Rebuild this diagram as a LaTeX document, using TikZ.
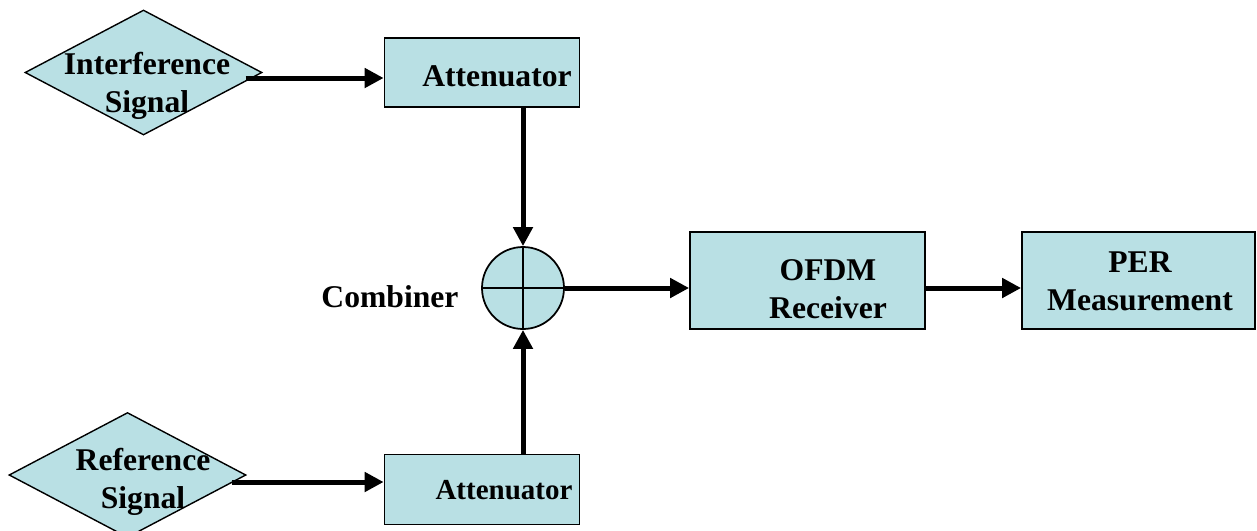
\documentclass[tikz,border=0pt]{standalone}
\usepackage{fontspec}
\setmainfont{Liberation Serif}
\usepackage{tikz}
\usetikzlibrary{arrows.meta,positioning,shapes.geometric}

\definecolor{blockfill}{RGB}{185,224,228}

\begin{document}
\begin{tikzpicture}[
  x=0.2mm, y=-0.2mm,
  box/.style={draw, line width=1pt, fill=blockfill, inner sep=0pt},
  diam/.style={draw, diamond, line width=0.8pt, fill=blockfill, inner sep=0pt, minimum width=47.4mm, minimum height=25mm},
  lbl/.style={align=center, font=\bfseries\fontsize{18}{21.5}\selectfont, inner sep=0pt},
  arr/.style={-{Triangle[length=3.8mm, width=3.8mm]}, line width=1mm}
]
\useasboundingbox (0,0) rectangle (1257,530);

\node[diam] (isig) at (143.5,72.5) {};
\node[lbl] (isigtxt) at (147,86) {Interference\\Signal};
\node[diam] (rsig) at (127.5,475) {};
\node[lbl] (rsigtxt) at (143,482) {Reference\\Signal};

\node[box, minimum width=39mm, minimum height=13.8mm] (att1) at (482,72.5) {};
\node[lbl] (att1txt) at (497,76) {Attenuator};
\node[box, minimum width=39mm, minimum height=14mm] (att2) at (482,489.5) {};
\node[lbl, font=\bfseries\fontsize{16.5}{19}\selectfont] (att2txt) at (504,490) {Attenuator};

\node[box, circle, minimum size=16.4mm] (comb) at (523,288) {};
\draw[line width=0.8pt] (comb.north) -- (comb.south) (comb.west) -- (comb.east);
\node[lbl] (comblbl) at (390,297) {Combiner};

\node[box, minimum width=47mm, minimum height=19.4mm] (ofdm) at (807.5,280.5) {};
\node[lbl] (ofdmtxt) at (828,289) {OFDM\\Receiver};
\node[box, minimum width=46.6mm, minimum height=19.4mm] (per) at (1138.5,280.5) {};
\node[lbl] (pertxt) at (1140,281) {PER\\Measurement};

\draw[arr] ([xshift=-3.4mm,yshift=-1.1mm]isig.east) coordinate (i0) -- (i0 -| att1.west);
\draw[arr] ([xshift=-3mm,yshift=-1.4mm]rsig.east) coordinate (r0) -- (r0 -| att2.west);
\draw[arr] (att1.south -| comb) -- (comb.north);
\draw[arr] (att2.north -| comb) -- (comb.south);
\draw[arr] (comb.east) -- (comb.east -| ofdm.west);
\draw[arr] (ofdm.east |- comb) -- (per.west |- comb);
\end{tikzpicture}
\end{document}
